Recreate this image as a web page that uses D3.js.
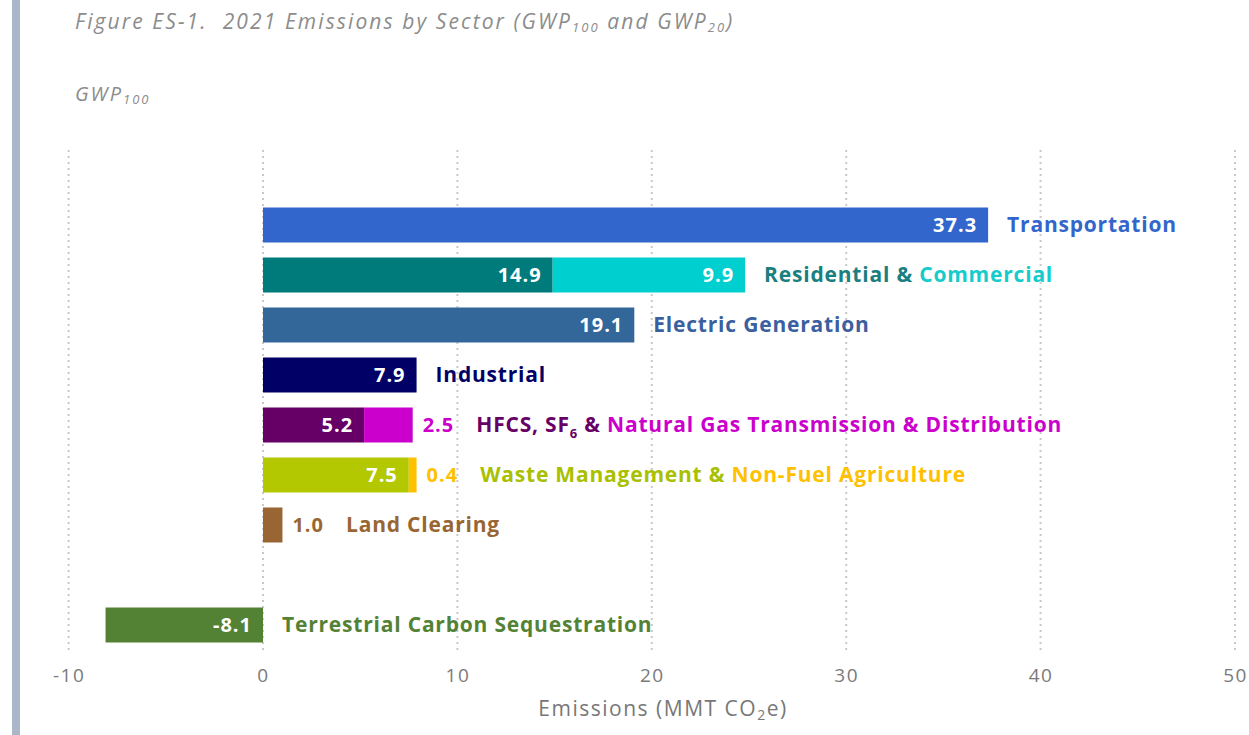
<!DOCTYPE html>
<html>
<head>
<meta charset="utf-8">
<script src="https://cdn.jsdelivr.net/npm/d3@7"></script>
<style>
  html, body { margin: 0; padding: 0; background: #ffffff; }
  svg { display: block; }
</style>
</head>
<body>
<svg id="chart" width="1249" height="735"></svg>
<script>
// ---------------- DATA ----------------
const categories = [
  "Transportation",
  "Residential & Commercial",
  "Electric Generation",
  "Industrial",
  "HFCS, SF6 & Natural Gas Transmission & Distribution",
  "Waste Management & Non-Fuel Agriculture",
  "Land Clearing",
  "(spacer)",
  "Terrestrial Carbon Sequestration"
];
const primaryValues   = [37.3, 14.9, 19.1, 7.9, 5.2, 7.5, 1.0, null, -8.1];
const secondaryValues = [null, 9.9, null, null, 2.5, 0.4, null, null, null];
const primaryColors   = ["#3366cc", "#007b7b", "#336699", "#000066", "#660066", "#b3c800", "#996633", null, "#548235"];
const secondaryColors = [null, "#00cfcf", null, null, "#cc00cc", "#ffc000", null, null, null];
// label pieces: [text, color, isSubscript]
const labelParts = [
  [["Transportation", "#3366cc"]],
  [["Residential & ", "#1a7f7f"], ["Commercial", "#14cccc"]],
  [["Electric Generation", "#3b5f9f"]],
  [["Industrial", "#000066"]],
  [["HFCS, SF", "#660066"], ["6", "#660066", true], [" & ", "#660066"], ["Natural Gas Transmission & Distribution", "#cc00cc"]],
  [["Waste Management & ", "#a8c000"], ["Non-Fuel Agriculture", "#ffc000"]],
  [["Land Clearing", "#996633"]],
  [],
  [["Terrestrial Carbon Sequestration", "#548235"]]
];
const xTicks = [-10, 0, 10, 20, 30, 40, 50];
const titleText = "Figure ES-1.  2021 Emissions by Sector (GWP";
const axisTitle = "Emissions (MMT CO";

// ---------------- LAYOUT ----------------
const svg = d3.select("#chart");
const LFONT = "'Open Sans', Lato, sans-serif";
const fmt = v => v.toFixed(1);

const x = d3.scaleLinear().domain([-10, 50]).range([68.6, 1235]);
const y = d3.scaleBand().domain(categories).range([200, 650]).paddingInner(0.3).paddingOuter(0.15);

// left decorative bar
svg.append("rect").attr("x", 12).attr("y", 0).attr("width", 8).attr("height", 735).attr("fill", "#aab6c9");

// title
const t = svg.append("text").attr("x", 75).attr("y", 29)
  .attr("font-family", LFONT).attr("font-style", "italic").attr("font-size", 21)
  .attr("fill", "#8c8c8c").attr("letter-spacing", 2.1).style("white-space", "pre");
t.append("tspan").text(titleText);
t.append("tspan").attr("font-size", 13).attr("dy", 3).text("100");
t.append("tspan").attr("dy", -3).text(" and GWP");
t.append("tspan").attr("font-size", 13).attr("dy", 3).text("20");
t.append("tspan").attr("dy", -3).text(")");

const g2 = svg.append("text").attr("x", 75).attr("y", 101)
  .attr("font-family", LFONT).attr("font-style", "italic").attr("font-size", 20)
  .attr("fill", "#8c8c8c").attr("letter-spacing", 2);
g2.append("tspan").text("GWP");
g2.append("tspan").attr("font-size", 13).attr("dy", 3).text("100");

// gridlines
svg.append("g").selectAll("line").data(xTicks).join("line")
  .attr("x1", d => x(d)).attr("x2", d => x(d))
  .attr("y1", 150).attr("y2", 650)
  .attr("stroke", "#c8c8c8").attr("stroke-width", 2).attr("stroke-dasharray", "2,4");

// x axis
const xAxis = d3.axisBottom(x).tickValues(xTicks).tickSize(0).tickPadding(0).tickFormat(d => String(d));
const ax = svg.append("g").attr("transform", "translate(0,667)").call(xAxis);
ax.select(".domain").remove();
ax.selectAll("text").attr("font-family", LFONT).attr("font-size", 19).attr("fill", "#7a7a7a")
  .attr("dy", "0.8em").attr("letter-spacing", 1.5);

const at = svg.append("text").attr("x", 663).attr("y", 716).attr("text-anchor", "middle")
  .attr("font-family", LFONT).attr("font-size", 21).attr("fill", "#777777").attr("letter-spacing", 1.5);
at.append("tspan").text(axisTitle);
at.append("tspan").attr("font-size", 14).attr("dy", 4).text("2");
at.append("tspan").attr("dy", -4).text("e)");

// bars
const rows = categories.map((c, i) => ({
  cat: c, i,
  p: primaryValues[i], s: secondaryValues[i],
  pc: primaryColors[i], sc: secondaryColors[i],
  parts: labelParts[i]
})).filter(d => d.p !== null);

const pad = 11, minInside = 55;
const gBars = svg.append("g");

rows.forEach(d => {
  const yTop = y(d.cat), h = y.bandwidth(), yMid = yTop + h / 2;
  const segs = [{ v0: 0, v1: d.p, color: d.pc, val: d.p }];
  if (d.s !== null) segs.push({ v0: d.p, v1: d.p + d.s, color: d.sc, val: d.s });
  let rightEdge = x(0);
  segs.forEach(s => {
    const x0 = Math.min(x(s.v0), x(s.v1)), x1 = Math.max(x(s.v0), x(s.v1));
    gBars.append("rect").attr("x", x0).attr("y", yTop).attr("width", x1 - x0).attr("height", h).attr("fill", s.color);
    rightEdge = Math.max(rightEdge, x1);
  });
  let cursor = rightEdge;
  segs.forEach(s => {
    const x0 = Math.min(x(s.v0), x(s.v1)), x1 = Math.max(x(s.v0), x(s.v1));
    const txt = fmt(s.val);
    if (x1 - x0 >= minInside) {
      gBars.append("text").attr("x", x1 - pad).attr("y", yMid + 7).attr("text-anchor", "end")
        .attr("font-family", LFONT).attr("font-weight", "bold").attr("font-size", 20)
        .attr("letter-spacing", 1).attr("fill", "#ffffff").text(txt);
    } else {
      const tx = gBars.append("text").attr("x", cursor + 10).attr("y", yMid + 7)
        .attr("font-family", LFONT).attr("font-weight", "bold").attr("font-size", 20)
        .attr("letter-spacing", 1).attr("fill", s.color).text(txt);
      cursor = cursor + 10 + tx.node().getComputedTextLength();
    }
  });
  const lx = cursor + (cursor === rightEdge ? 19 : 22);
  const lt = gBars.append("text").attr("x", lx).attr("y", yMid + 7)
    .attr("font-family", LFONT).attr("font-weight", "bold").attr("font-size", 21)
    .attr("letter-spacing", 0.8).style("white-space", "pre");
  d.parts.forEach((p, k) => {
    const ts = lt.append("tspan").attr("fill", p[1]).text(p[0]);
    if (p[2]) ts.attr("font-size", 13).attr("dy", 6);
    else if (k > 0 && d.parts[k - 1][2]) ts.attr("dy", -6);
  });
});
</script>
</body>
</html>
